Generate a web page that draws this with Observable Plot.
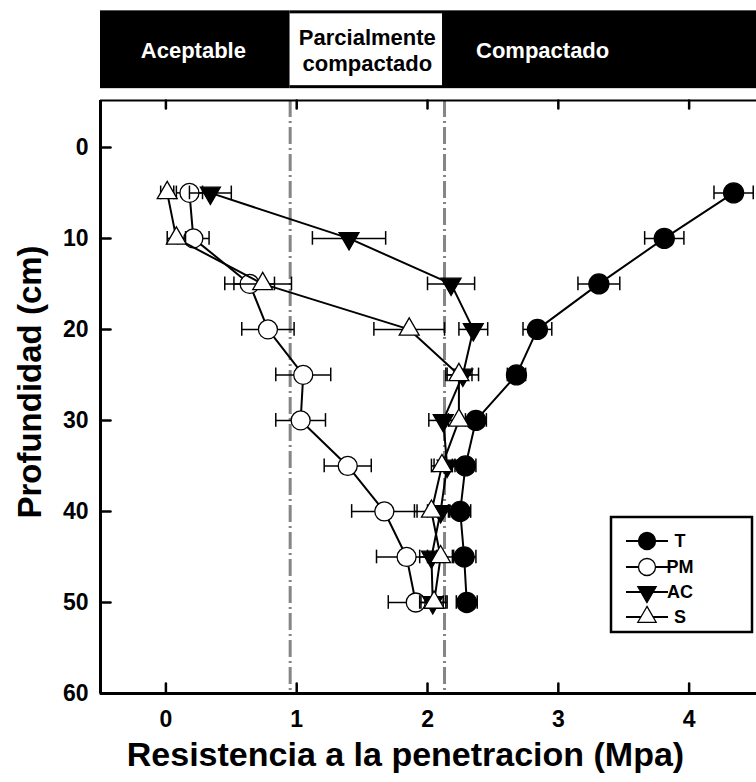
<!DOCTYPE html>
<html>
<head>
<meta charset="utf-8">
<script src="https://cdn.jsdelivr.net/npm/d3@7"></script>
<script src="https://cdn.jsdelivr.net/npm/@observablehq/plot@0.6"></script>
<style>
  html, body { margin: 0; padding: 0; background: #fff; }
  svg { display: block; }
</style>
</head>
<body>
<div id="chart"></div>
<script>
// ---- data ----
const depth = [5, 10, 15, 20, 25, 30, 35, 40, 45, 50];
const seriesNames = ["T", "PM", "AC", "S"];
const T_vals  = [4.34, 3.81, 3.31, 2.84, 2.68, 2.37, 2.29, 2.25, 2.28, 2.30];
const T_err   = [0.15, 0.15, 0.16, 0.11, 0.07, 0.08, 0.08, 0.08, 0.09, 0.08];
const PM_vals = [0.18, 0.21, 0.64, 0.78, 1.05, 1.03, 1.39, 1.67, 1.84, 1.91];
const PM_err  = [0.10, 0.12, 0.19, 0.20, 0.21, 0.19, 0.18, 0.25, 0.23, 0.21];
const AC_vals = [0.34, 1.40, 2.18, 2.35, 2.27, 2.12, 2.15, 2.10, 2.03, 2.04];
const AC_err  = [0.16, 0.28, 0.18, 0.11, 0.12, 0.11, 0.10, 0.10, 0.09, 0.10];
const S_vals  = [0.01, 0.08, 0.74, 1.86, 2.24, 2.24, 2.11, 2.03, 2.10, 2.05];
const S_err   = [0.05, 0.07, 0.22, 0.27, 0.10, 0.08, 0.08, 0.13, 0.10, 0.10];

const xTicks = [0, 1, 2, 3, 4];
const yTicks = [0, 10, 20, 30, 40, 50, 60];
const thresholds = [0.95, 2.13];
const zoneLabels = ["Aceptable", "Parcialmente\ncompactado", "Compactado"];
const zoneLabelX = [0.21, 1.54, 2.88];

const xDomain = [-0.5, 4.515];
const yDomain = [-5.15, 60];
const bannerTop = -15.0, bannerBottom = -6.45, bannerMid = -10.75;

// ---- build tables ----
const valsBy = {T: T_vals, PM: PM_vals, AC: AC_vals, S: S_vals};
const errBy = {T: T_err, PM: PM_err, AC: AC_err, S: S_err};
const styleBy = {
  T:  {symbol: "circle",   fill: "black", r: 10,  rotate: 0},
  PM: {symbol: "circle",   fill: "white", r: 9.5, rotate: 0},
  AC: {symbol: "triangle", fill: "black", r: 7.4, rotate: 180},
  S:  {symbol: "triangle", fill: "white", r: 7.4, rotate: 0}
};
const zones = zoneLabels.map((label, i) => ({
  label,
  x1: i === 0 ? xDomain[0] : thresholds[i - 1],
  x2: i === zoneLabels.length - 1 ? xDomain[1] : thresholds[i],
  lx: zoneLabelX[i]
}));

const seriesMarks = seriesNames.flatMap(name => {
  const rows = depth.map((d, i) => ({depth: d, v: valsBy[name][i], e: errBy[name][i]}));
  const caps = rows.flatMap(r => [{depth: r.depth, x: r.v - r.e}, {depth: r.depth, x: r.v + r.e}]);
  const st = styleBy[name];
  return [
    Plot.line(rows, {x: "v", y: "depth", stroke: "black", strokeWidth: 2}),
    Plot.link(rows, {x1: d => d.v - d.e, x2: d => d.v + d.e, y1: "depth", y2: "depth", stroke: "black", strokeWidth: 1.5}),
    Plot.ruleX(caps, {x: "x", y1: d => d.depth - 0.75, y2: d => d.depth + 0.75, stroke: "black", strokeWidth: 1.5}),
    Plot.dot(rows, {x: "v", y: "depth", symbol: st.symbol, r: st.r, fill: st.fill, stroke: "black", strokeWidth: 1.3, rotate: st.rotate})
  ];
});

const tickShape = {draw(context, l) { context.moveTo(0, 0); context.lineTo(0, -l); }};

const chart = Plot.plot({
  width: 756,
  height: 782,
  marginLeft: 100,
  marginRight: 0,
  marginTop: 100,
  marginBottom: 89,
  style: {fontFamily: "'Liberation Sans', Arial, sans-serif", background: "white", overflow: "visible"},
  x: {domain: xDomain, axis: null},
  y: {domain: yDomain, range: [100, 693], axis: null},
  marks: [
    // banner
    Plot.rect(zones, {x1: "x1", x2: "x2", y1: bannerTop, y2: bannerBottom, fill: "black", clip: false}),
    Plot.rect([zones[1]], {x1: "x1", x2: "x2", y1: bannerTop, y2: bannerBottom, fill: "white", insetTop: 3, insetBottom: 3, insetLeft: 0, insetRight: 2}),
    Plot.text(zones, {x: "lx", y: bannerMid, text: "label", fill: (d, i) => i === 1 ? "black" : "white",
      fontSize: 22, fontWeight: "bold", lineHeight: 1.2}),
    // threshold lines
    Plot.ruleX(thresholds, {stroke: "#858585", strokeWidth: 3, strokeDasharray: "17,4,2,4"}),
    // frame
    Plot.ruleY([yDomain[0]], {stroke: "black", strokeWidth: 2}),
    Plot.ruleY([yDomain[1]], {stroke: "black", strokeWidth: 3}),
    Plot.ruleX([xDomain[0]], {stroke: "black", strokeWidth: 3}),
    // ticks
    Plot.vector(yTicks, {x: xDomain[0], y: d => d, length: 10, rotate: 90, anchor: "start", shape: tickShape, stroke: "black", strokeWidth: 2.5}),
    Plot.vector(xTicks, {x: d => d, y: yDomain[1], length: 10, rotate: 0, anchor: "start", shape: tickShape, stroke: "black", strokeWidth: 2.5}),
    Plot.vector(xTicks, {x: d => d, y: yDomain[0], length: 8, rotate: 180, anchor: "start", shape: tickShape, stroke: "black", strokeWidth: 2.5}),
    // tick labels
    Plot.text(yTicks, {x: xDomain[0], y: d => d, text: d => String(d), dx: -12, textAnchor: "end", fontSize: 23, fontWeight: "bold"}),
    Plot.text(xTicks, {x: d => d, y: yDomain[1], text: d => String(d), dy: 26, fontSize: 23, fontWeight: "bold"}),
    // axis titles
    Plot.text(["Resistencia a la penetracion (Mpa)"], {frameAnchor: "bottom", dy: 72, dx: -23, fontSize: 34, fontWeight: "bold"}),
    Plot.text(["Profundidad (cm)"], {frameAnchor: "left", textAnchor: "middle", dx: -70, dy: -15, rotate: -90, fontSize: 33, fontWeight: "bold"}),
    ...seriesMarks
  ]
});

// ---- legend ----
const svg = d3.select(chart);
const lg = svg.append("g").attr("class", "legend");
lg.append("rect").attr("x", 611).attr("y", 517).attr("width", 141).attr("height", 115)
  .attr("fill", "white").attr("stroke", "black").attr("stroke-width", 2.5);
const legendRowY = [541, 567, 592, 617];
const legendSize = {circle: Math.PI * 8.5 * 8.5, triangle: Math.PI * 6.8 * 6.8};
seriesNames.forEach((name, i) => {
  const st = styleBy[name];
  const y = legendRowY[i];
  lg.append("line").attr("x1", 626).attr("x2", 668).attr("y1", y).attr("y2", y)
    .attr("stroke", "black").attr("stroke-width", 2);
  const sym = st.symbol === "circle" ? d3.symbolCircle : d3.symbolTriangle;
  lg.append("path").attr("d", d3.symbol(sym, legendSize[st.symbol])())
    .attr("transform", `translate(647,${y}) rotate(${st.rotate})`)
    .attr("fill", st.fill).attr("stroke", "black").attr("stroke-width", 1.3);
  lg.append("text").attr("x", 680).attr("y", y).attr("dy", "0.35em")
    .attr("font-family", "'Liberation Sans', Arial, sans-serif")
    .attr("font-size", 18).attr("font-weight", "bold").attr("fill", "black").text(name);
});

document.getElementById("chart").appendChild(chart);
</script>
</body>
</html>
